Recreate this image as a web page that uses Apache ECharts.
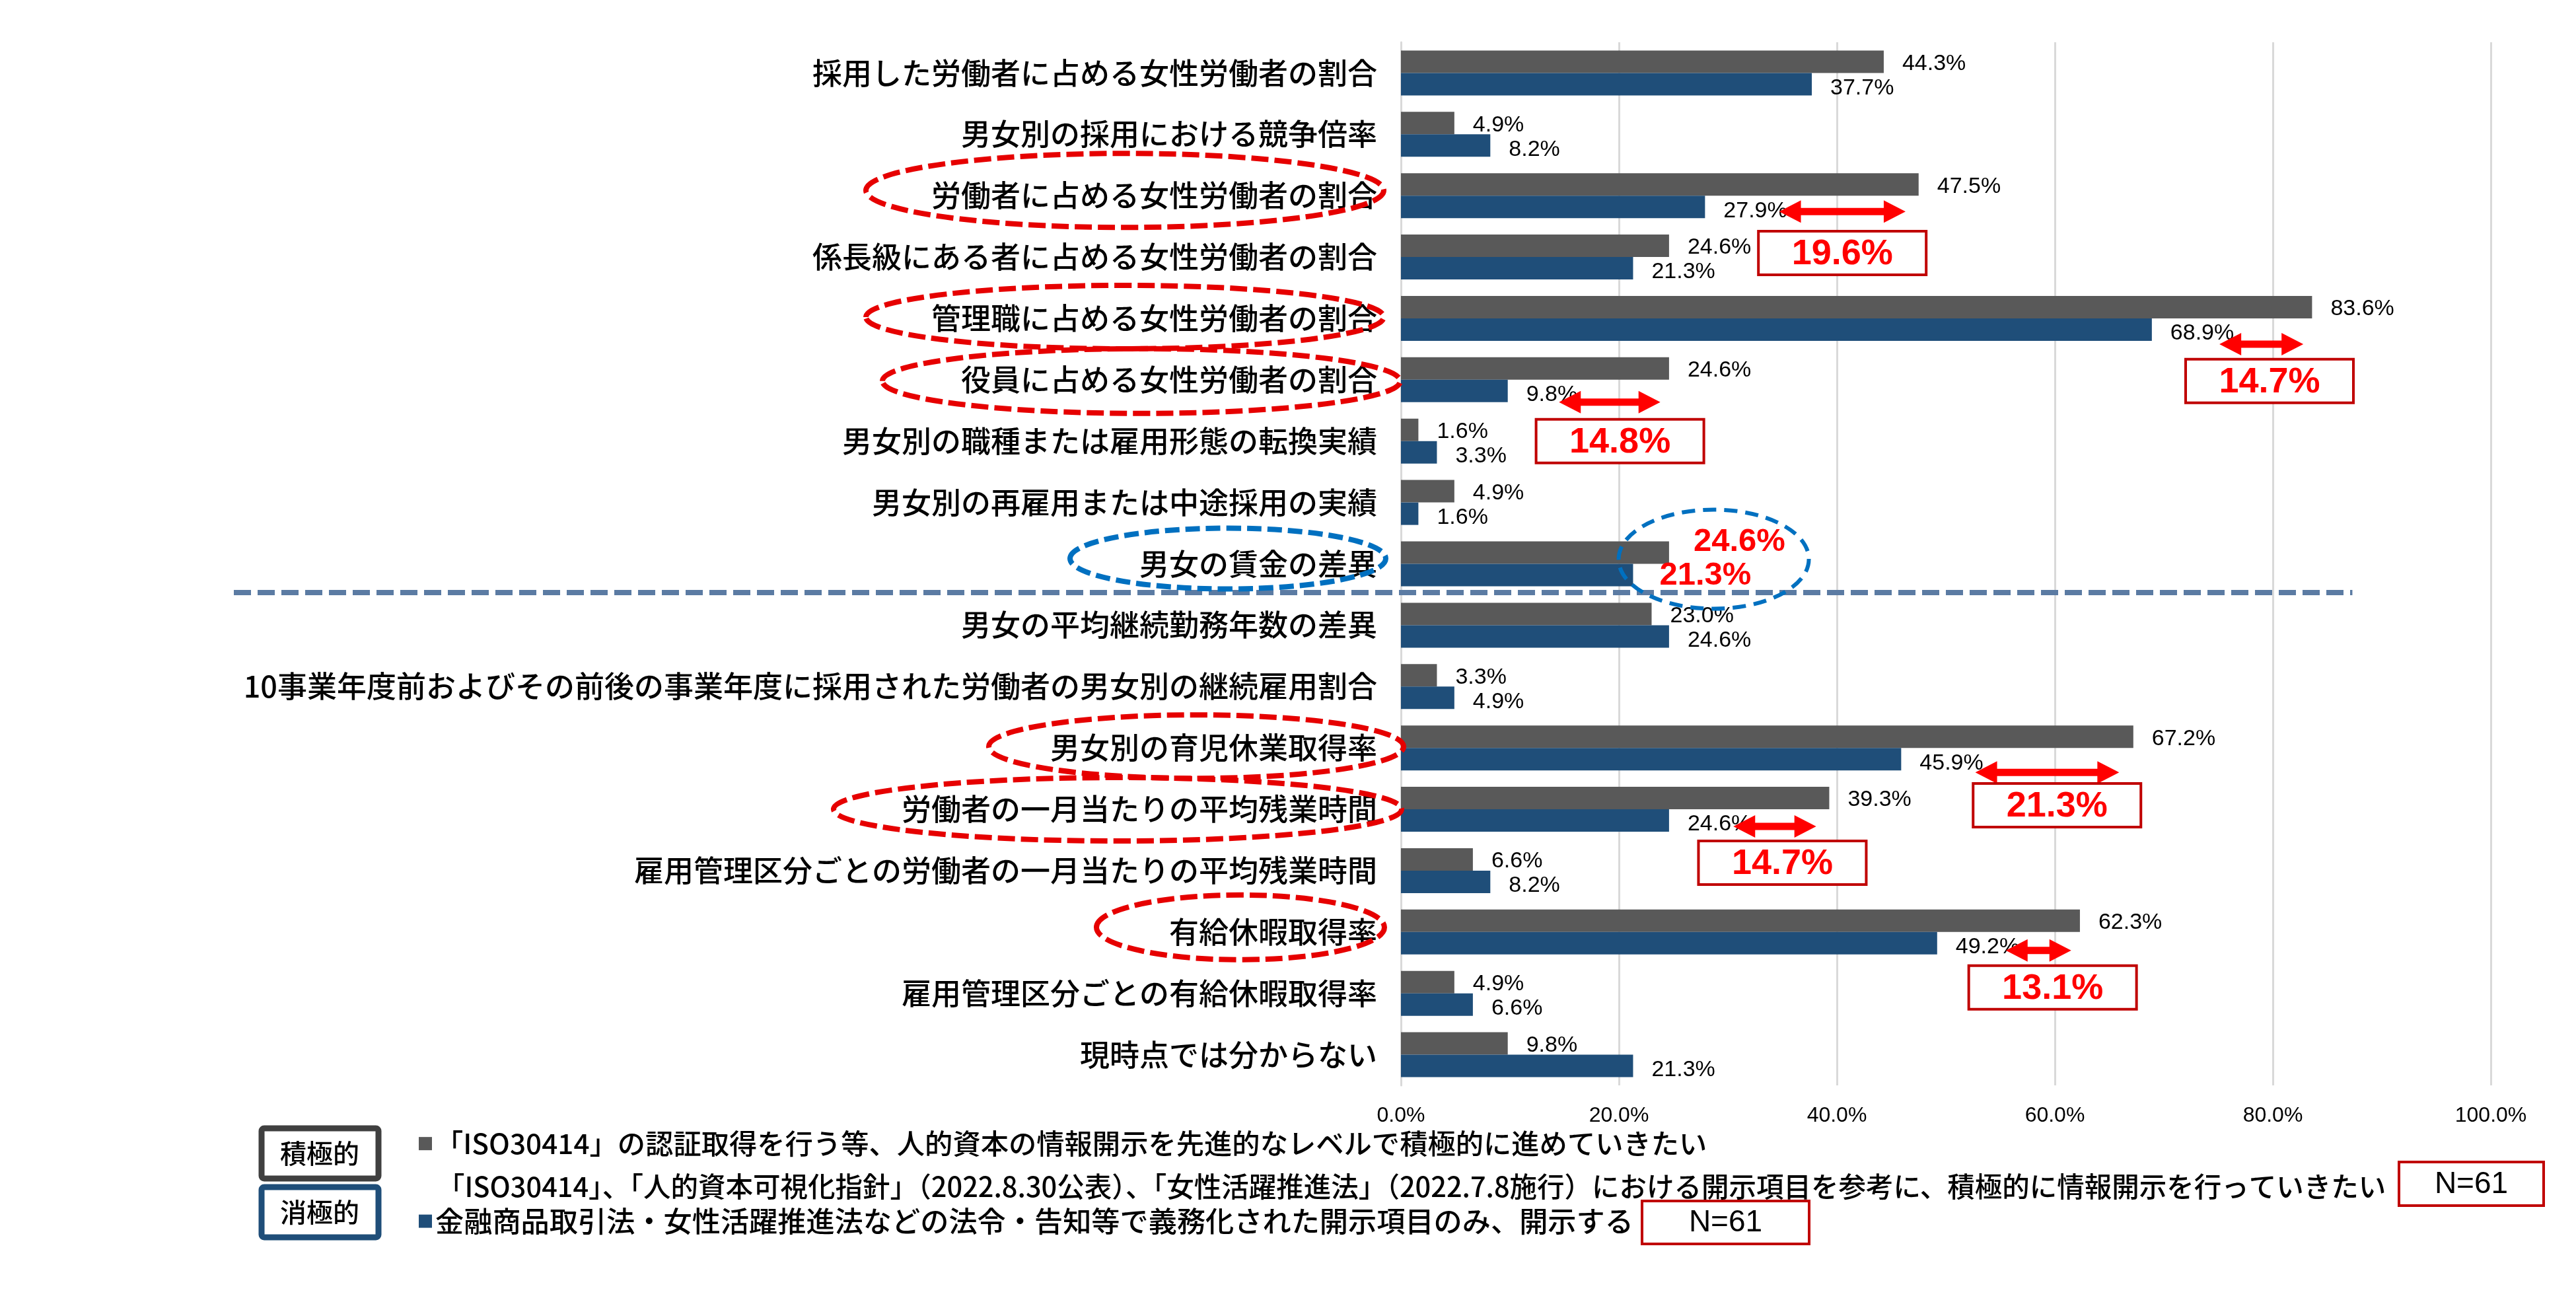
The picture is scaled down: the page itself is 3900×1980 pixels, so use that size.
<!DOCTYPE html>
<html>
<head>
<meta charset="utf-8">
<script src="https://cdn.jsdelivr.net/npm/echarts@6/dist/echarts.min.js"></script>
<style>
html,body{margin:0;padding:0;background:#fff;}
#chart{width:3900px;height:1980px;}
</style>
</head>
<body>
<div id="chart"></div>
<script>
// ---------------- data ----------------
const categories = [
  '採用した労働者に占める女性労働者の割合',
  '男女別の採用における競争倍率',
  '労働者に占める女性労働者の割合',
  '係長級にある者に占める女性労働者の割合',
  '管理職に占める女性労働者の割合',
  '役員に占める女性労働者の割合',
  '男女別の職種または雇用形態の転換実績',
  '男女別の再雇用または中途採用の実績',
  '男女の賃金の差異',
  '男女の平均継続勤務年数の差異',
  '10事業年度前およびその前後の事業年度に採用された労働者の男女別の継続雇用割合',
  '男女別の育児休業取得率',
  '労働者の一月当たりの平均残業時間',
  '雇用管理区分ごとの労働者の一月当たりの平均残業時間',
  '有給休暇取得率',
  '雇用管理区分ごとの有給休暇取得率',
  '現時点では分からない'
];
const activeValues  = [44.3, 4.9, 47.5, 24.6, 83.6, 24.6, 1.6, 4.9, 24.6, 23.0, 3.3, 67.2, 39.3, 6.6, 62.3, 4.9, 9.8];
const passiveValues = [37.7, 8.2, 27.9, 21.3, 68.9, 9.8, 3.3, 1.6, 21.3, 24.6, 4.9, 45.9, 24.6, 8.2, 49.2, 6.6, 21.3];
const xTicks = [0, 20, 40, 60, 80, 100];

const activeName  = '「ISO30414」の認証取得を行う等、人的資本の情報開示を先進的なレベルで積極的に進めていきたい';
const activeName2 = '「ISO30414」、「人的資本可視化指針」（2022.8.30公表）、「女性活躍推進法」（2022.7.8施行）における開示項目を参考に、積極的に情報開示を行っていきたい';
const passiveName = '金融商品取引法・女性活躍推進法などの法令・告知等で義務化された開示項目のみ、開示する';
const sampleText = 'N=61';
const tagActive = '積極的';
const tagPassive = '消極的';
const wageCategory = 8;

// ---------------- annotation layout (not data) ----------------
const redRings = [
  {cat: 2,  right: -26, rx: 392, ry: 56,  dy: -8},
  {cat: 4,  right: -26, rx: 392, ry: 48,  dy: -2},
  {cat: 5,  right: -1,  rx: 392, ry: 49,  dy: 2},
  {cat: 11, right: 4,   rx: 314, ry: 48,  dy: -2},
  {cat: 12, right: 1,   rx: 430, ry: 48,  dy: 0},
  {cat: 14, right: -25, rx: 218, ry: 49,  dy: -7}
];
const blueLabelRing = {cat: 8, right: -23, rx: 239, ry: 46, dy: -8};
const blueValueRing = {cat: 8, at: 28.7, rx: 144, ry: 75, dy: -7};
const arrows = [
  {cat: 2,  from: 34.7, to: 46.3, dy: 24},
  {cat: 4,  from: 75.1, to: 82.8, dy: 39},
  {cat: 5,  from: 14.5, to: 23.8, dy: 34},
  {cat: 11, from: 52.7, to: 65.9, dy: 37},
  {cat: 12, from: 30.5, to: 38.1, dy: 26},
  {cat: 14, from: 55.5, to: 61.5, dy: 28}
];
const diffBoxes = [
  {src: 2,  cat: 3,  at: 32.8, dy: -6},
  {src: 4,  cat: 5,  at: 72.0, dy: 2},
  {src: 5,  cat: 6,  at: 12.4, dy: 0},
  {src: 11, cat: 12, at: 52.5, dy: -6},
  {src: 12, cat: 13, at: 27.3, dy: -12},
  {src: 14, cat: 15, at: 52.1, dy: -9}
];

const GRAY = '#595959', NAVY = '#1F4E79', RED = '#FF0000', DARKRED = '#C00000';
const LATIN = 'Liberation Sans, Arial, sans-serif';
const CJK = 'Noto Sans CJK JP, sans-serif';
const pct = v => v.toFixed(1) + '%';

function buildData(values, special) {
  return values.map((v, i) => i === wageCategory ? {value: v, label: special} : v);
}

const chart = echarts.init(document.getElementById('chart'), null, {renderer: 'canvas'});

const option = {
  animation: false,
  backgroundColor: '#fff',
  grid: {left: 2121, right: 129, top: 64, bottom: 337, containLabel: false},
  xAxis: {
    type: 'value', min: xTicks[0], max: xTicks[xTicks.length - 1], interval: xTicks[1] - xTicks[0],
    axisLine: {show: false}, axisTick: {show: false},
    splitLine: {show: true, lineStyle: {color: '#D9D9D9', width: 3}},
    axisLabel: {formatter: v => pct(v), fontSize: 32, color: '#000', fontFamily: LATIN, margin: 30}
  },
  yAxis: {
    type: 'category', data: categories, inverse: true,
    axisLine: {show: true, lineStyle: {color: '#D9D9D9', width: 3}},
    axisTick: {show: false},
    axisLabel: {fontSize: 45, fontWeight: 500, color: '#000', fontFamily: CJK, margin: 36}
  },
  legend: [
    {data: [activeName], left: 634, top: 1710, padding: 0, itemWidth: 20, itemHeight: 20, icon: 'rect',
     selectedMode: false, textStyle: {fontSize: 42.3, fontWeight: 500, color: '#000', fontFamily: CJK}},
    {data: [passiveName], left: 634, top: 1827, padding: 0, itemWidth: 20, itemHeight: 20, icon: 'rect',
     selectedMode: false, textStyle: {fontSize: 43.2, fontWeight: 500, color: '#000', fontFamily: CJK}}
  ],
  series: [
    {
      name: activeName, type: 'bar', barWidth: 34, barGap: '0%',
      itemStyle: {color: GRAY},
      label: {show: true, position: 'right', distance: 28, offset: [0, 3], formatter: p => pct(p.value),
              fontSize: 34, fontFamily: LATIN, color: '#000'},
      data: buildData(activeValues, {fontSize: 49, fontWeight: 'bold', color: RED, distance: 37, offset: [0, -16]})
    },
    {
      name: passiveName, type: 'bar', barWidth: 34, barGap: '0%',
      itemStyle: {color: NAVY},
      label: {show: true, position: 'right', distance: 28, offset: [0, 6], formatter: p => pct(p.value),
              fontSize: 34, fontFamily: LATIN, color: '#000'},
      data: buildData(passiveValues, {fontSize: 49, fontWeight: 'bold', color: RED, distance: 40, offset: [0, 1]})
    }
  ]
};
chart.setOption(option);

// ---------------- annotations positioned through the chart's own scales ----------------
function px(value, cat) { return chart.convertToPixel({xAxisIndex: 0, yAxisIndex: 0}, [value, cat]); }

const g = [];
const axisX = px(0, 0)[0];

function ring(r, color, width, dash) {
  const cy = px(0, r.cat)[1] + r.dy;
  const cx = r.at !== undefined ? px(r.at, r.cat)[0] : axisX + r.right - r.rx;
  g.push({type: 'ellipse', z: 100, shape: {cx: cx, cy: cy, rx: r.rx, ry: r.ry},
          style: {fill: null, stroke: color, lineWidth: width, lineDash: dash}});
}
redRings.forEach(r => ring(r, '#E60000', 8, [26, 9]));
ring(blueLabelRing, '#0070C0', 8, [22, 9]);
ring(blueValueRing, '#0070C0', 6, [20, 12]);

// divider between categories 8 and 9
const yDiv = (px(0, 8)[1] + px(0, 9)[1]) / 2 - 3;
g.push({type: 'line', z: 90, shape: {x1: 354, y1: yDiv, x2: px(87.3, 8)[0], y2: yDiv},
        style: {stroke: '#5B7BA3', lineWidth: 8, lineDash: [26, 10]}});

// double arrows
arrows.forEach(a => {
  const y = px(0, a.cat)[1] + a.dy;
  const x1 = px(a.from, a.cat)[0], x2 = px(a.to, a.cat)[0];
  const h = 33, hh = 17, t = 11;
  g.push({type: 'polygon', z: 110, shape: {points: [
    [x1, y], [x1 + h, y - hh], [x1 + h, y - t / 2], [x2 - h, y - t / 2], [x2 - h, y - hh], [x2, y],
    [x2 - h, y + hh], [x2 - h, y + t / 2], [x1 + h, y + t / 2], [x1 + h, y + hh]]},
    style: {fill: RED}});
});

// boxed differences
diffBoxes.forEach(b => {
  const cy = px(0, b.cat)[1] + b.dy;
  const x = px(b.at, b.cat)[0];
  const w = 254, hgt = 66;
  g.push({type: 'rect', z: 110, shape: {x: x, y: cy - hgt / 2, width: w, height: hgt},
          style: {fill: '#fff', stroke: DARKRED, lineWidth: 4}});
  g.push({type: 'text', z: 111, style: {text: pct(activeValues[b.src] - passiveValues[b.src]),
          x: x + w / 2, y: cy + 2, align: 'center', verticalAlign: 'middle',
          fontSize: 54, fontWeight: 'bold', fontFamily: LATIN, fill: RED}});
});

// legend extras
g.push({type: 'text', z: 50, style: {text: activeName2, x: 662, y: 1796, align: 'left', verticalAlign: 'middle',
        fontSize: 41.5, fontWeight: 500, fontFamily: CJK, fill: '#000'}});
function tag(text, y, color) {
  g.push({type: 'rect', z: 50, shape: {x: 396, y: y, width: 177, height: 76, r: 4},
          style: {fill: '#fff', stroke: color, lineWidth: 9}});
  g.push({type: 'text', z: 51, style: {text: text, x: 484, y: y + 38, align: 'center', verticalAlign: 'middle',
          fontSize: 40, fontWeight: 500, fontFamily: CJK, fill: '#000'}});
}
tag(tagActive, 1708, '#404040');
tag(tagPassive, 1797, NAVY);
function nBox(x, y, w, h) {
  g.push({type: 'rect', z: 50, shape: {x: x, y: y, width: w, height: h},
          style: {fill: '#fff', stroke: DARKRED, lineWidth: 4}});
  g.push({type: 'text', z: 51, style: {text: sampleText, x: x + w / 2, y: y + h / 2 + 1, align: 'center',
          verticalAlign: 'middle', fontSize: 46, fontFamily: LATIN, fill: '#000'}});
}
nBox(3632, 1759, 219, 66);
nBox(2486, 1818, 253, 65);

chart.setOption({graphic: {elements: g}});
</script>
</body>
</html>
